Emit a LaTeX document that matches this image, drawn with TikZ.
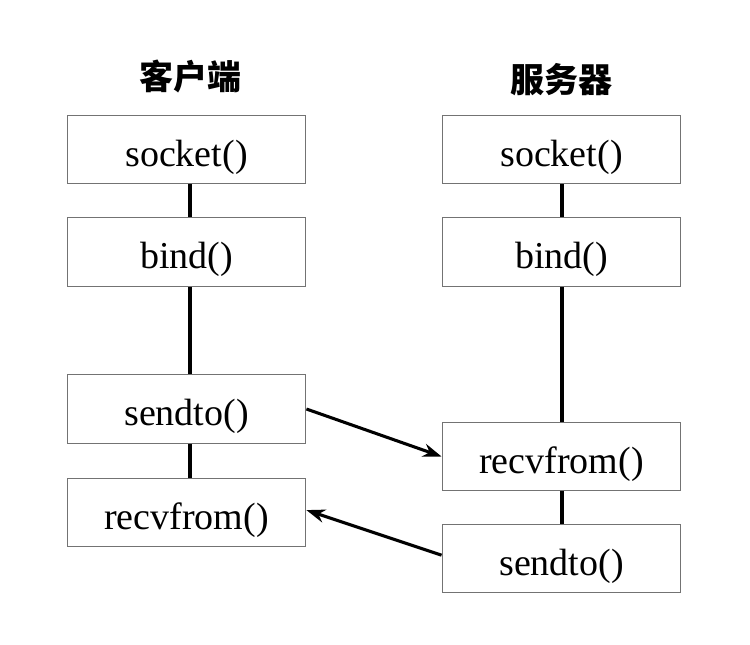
\documentclass[tikz,border=0pt]{standalone}
\usepackage{fontspec}
\setmainfont{Liberation Serif}
\newfontfamily\cjk{Noto Sans CJK SC}
\usetikzlibrary{arrows.meta}
\newcommand{\lowtxt}[1]{\raisebox{-12.5pt}[0pt][0pt]{#1}}
\begin{document}
\begin{tikzpicture}[x=0.75pt,y=-0.75pt,
  fbox/.style={draw=black!55,line width=0.9pt,rectangle,minimum width=179pt,minimum height=51.5pt,inner sep=0pt,font=\fontsize{28.5}{32}\selectfont},
  title/.style={font=\cjk\bfseries\fontsize{25.5}{28}\selectfont},
  vline/.style={line width=3pt,black},
  msg/.style={line width=2.3pt,black,-{Stealth[length=14pt,width=10pt]}}]
\useasboundingbox (0,0) rectangle (750,644);
\node[title] (tc) at (190,76) {客户端};
\node[title] (ts) at (561,80) {服务器};
\node[fbox] (cs) at (186.5,149.5) {\lowtxt{socket()}};
\node[fbox] (cb) at (186.5,252) {\lowtxt{bind()}};
\node[fbox] (cst) at (186.5,409) {\lowtxt{sendto()}};
\node[fbox] (cr) at (186.5,512.5) {\lowtxt{recvfrom()}};
\node[fbox] (ss) at (561.5,149.5) {\lowtxt{socket()}};
\node[fbox] (sb) at (561.5,252) {\lowtxt{bind()}};
\node[fbox] (sr) at (561.5,456.5) {\lowtxt{recvfrom()}};
\node[fbox] (sst) at (561.5,558.5) {\lowtxt{sendto()}};
\draw[vline] ([xshift=2.6pt]cs.south) -- ([xshift=2.6pt]cb.north);
\draw[vline] ([xshift=2.6pt]cb.south) -- ([xshift=2.6pt]cst.north);
\draw[vline] ([xshift=2.6pt]cst.south) -- ([xshift=2.6pt]cr.north);
\draw[vline] (ss.south) -- (sb.north);
\draw[vline] (sb.south) -- (sr.north);
\draw[vline] (sr.south) -- (sst.north);
\draw[msg] (cst.east) -- (sr.west);
\draw[msg] ([yshift=2.5pt]sst.west) -- ([yshift=1.8pt]cr.east);
\end{tikzpicture}
\end{document}
